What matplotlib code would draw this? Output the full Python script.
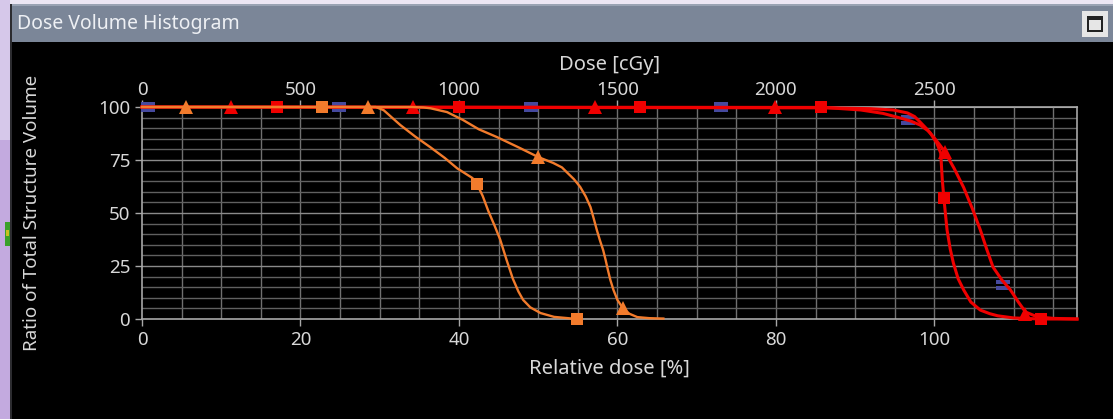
import numpy as np
import matplotlib.pyplot as plt
from matplotlib.patches import Rectangle
from matplotlib.path import Path

plt.rcParams['font.family'] = ['Noto Sans', 'DejaVu Sans']

# relative dose [%] vs ratio of structure volume [%]
# orange, square markers
a_x = [0, 29.5, 30.5, 32.6, 34.5, 36.4, 38.2, 39.8, 41.7, 42.3, 43.0, 43.7, 44.5, 45.2,
       46.0, 46.8, 47.5, 48.1, 49.0, 50.3, 52.0, 54.9]
a_y = [100, 100, 98.5, 91.5, 86, 81, 76, 71, 66.5, 63.5, 58, 51, 44, 37.5,
       28, 19, 13, 9, 5.5, 2.8, 1.0, 0]
a_mx = [22.7, 42.3, 54.9]
a_my = [100, 63.5, 0]

# orange, triangle markers
b_x = [0, 34, 35.5, 36.4, 38.5, 40.5, 42.5, 44.8, 47.5, 50.0, 51.9, 53.0, 53.7, 54.5,
       55.3, 56.0, 56.6, 57.0, 57.4, 57.8, 58.2, 58.5, 58.8, 59.1, 59.5, 60.0, 60.7,
       61.5, 62.5, 64, 65.8]
b_y = [100, 100, 99.8, 99.4, 97.6, 93.9, 89.5, 85.8, 81, 76.4, 73.6, 71.5, 68.9, 66,
       62.3, 57.8, 52.8, 47.5, 42, 37, 32.5, 28, 23.1, 18.5, 13.7, 9, 5,
       2.5, 0.9, 0.4, 0.2]
b_mx = [5.6, 28.5, 50.0, 60.7]
b_my = [100, 100, 76.4, 5]

# red, triangle markers
c_x = [0, 86, 90.7, 93.5, 95.7, 97.0, 98.2, 99.2, 99.9, 100.6, 101.3, 102.5, 103.7,
       104.8, 105.8, 106.6, 107.4, 108.5, 109.6, 110.6, 111.5, 113, 115, 118]
c_y = [100, 99.8, 98.6, 97, 94.8, 93.4, 91.5, 88.8, 85.8, 82.5, 79, 71, 62,
       52, 42, 33, 24.5, 18.5, 13.7, 8, 3.3, 1, 0.3, 0]
c_mx = [11.2, 34.2, 57.2, 79.9, 101.3, 111.5]
c_my = [100, 100, 100, 100, 79, 2.5]

# red, square markers
d_x = [0, 86.5, 92, 94.8, 96.6, 97.5, 98.2, 99.0, 99.5, 100.3, 100.8, 101.0, 101.2,
       101.6, 102.0, 102.4, 103.0, 103.7, 104.6, 105.8, 107, 108, 110, 113.4, 118]
d_y = [100, 99.6, 99.2, 98.6, 97.2, 95.5, 92.9, 89.8, 87.7, 83, 78.3, 65.6, 57,
       42, 33, 26.4, 19, 13.7, 8, 4.2, 2.5, 1.5, 0.5, 0, 0]
d_mx = [17.0, 40.0, 62.9, 85.7, 101.2, 113.4]
d_my = [100, 100, 100, 100, 57, 0]

# blue markers (line hidden under the red curves)
e_mx = [0.8, 24.9, 49.1, 73.1, 96.7, 108.6]
e_my = [100, 100, 100, 100, 93.8, 16]

x_ticks = [0, 20, 40, 60, 80, 100]
y_ticks = [0, 25, 50, 75, 100]
dose_ticks = [0, 500, 1000, 1500, 2000, 2500]
full_dose = 2500  # cGy at 100 %

RED = '#f00000'
ORANGE = '#f27b2c'
BLUE = '#45499e'
TXT = '#d8d8d8'

fig = plt.figure(figsize=(11.13, 4.19), dpi=100, facecolor='black')

# window chrome
W, H = 1113, 419
def px_rect(x0, y0, x1, y1, color, z=0):
    fig.patches.append(Rectangle((x0 / W, 1 - y1 / H), (x1 - x0) / W, (y1 - y0) / H,
                                 transform=fig.transFigure, color=color, zorder=z, lw=0))

px_rect(0, 0, W, 4, '#ece6f3')
px_rect(0, 0, 10, H, '#c3aadf')
px_rect(0, 0, 10, 140, '#d6c8ea')
px_rect(10, 4, 12, H, '#2c2c30')
px_rect(12, 4, W, 42, '#7b8698')
px_rect(12, 4, W, 6, '#9aa3b3')
px_rect(5, 222, 10, 246, '#3aa02a')
px_rect(6, 230, 9, 236, '#c8c020')
px_rect(1082, 11, 1108, 37, '#e6e6e6')
px_rect(1087, 16, 1103, 32, '#222222')
px_rect(1089, 20, 1101, 30, '#e6e6e6')
fig.text(17 / W, 1 - 24 / H, 'Dose Volume Histogram', color='#eef0f4',
         fontsize=14, va='center', ha='left')

ax = fig.add_axes([142 / W, 1 - 319 / H, (1077 - 142) / W, (319 - 107) / H])
ax.set_facecolor('black')
ax.set_xlim(0, 118)
ax.set_ylim(0, 100)

# grid: every 5 % both ways
for gx in np.arange(5, 116, 5):
    ax.axvline(gx, color='#707070', lw=1.0, zorder=1)
for gy in np.arange(5, 100, 5):
    c = '#8a8a8a' if gy % 25 == 0 else '#606060'
    ax.axhline(gy, color=c, lw=1.0, zorder=1)

for s in ax.spines.values():
    s.set_color('#a8a8a8')
    s.set_linewidth(1.2)

ax.set_xticks(x_ticks)
ax.set_yticks(y_ticks)
ax.tick_params(colors='#a8a8a8', labelcolor=TXT, labelsize=13.5, length=5, width=1)
ax.set_xlabel('Relative dose [%]', color=TXT, fontsize=14.5, labelpad=7)
ax.set_ylabel('Ratio of Total Structure Volume', color=TXT, fontsize=13.5, labelpad=41)

top = ax.secondary_xaxis('top', functions=(lambda v: v * full_dose / 100,
                                           lambda v: v * 100 / full_dose))
top.set_xticks(dose_ticks)
top.tick_params(colors='#a8a8a8', labelcolor=TXT, labelsize=13.5, length=5, width=1, pad=1)
top.spines['top'].set_color('#a8a8a8')
top.set_xlabel('Dose [cGy]', color=TXT, fontsize=14.5, labelpad=8)

bars = Path([(-1, 0.2), (1, 0.2), (1, 0.75), (-1, 0.75), (-1, 0.2),
             (-1, -0.2), (1, -0.2), (1, -0.75), (-1, -0.75), (-1, -0.2)],
            [1, 2, 2, 2, 79, 1, 2, 2, 2, 79])
ax.plot(e_mx, e_my, ls='none', marker=bars, ms=10, color=BLUE, mew=0,
        clip_on=False, zorder=3)

ax.plot(d_x, d_y, color=RED, lw=2.2, zorder=4, clip_on=False)
ax.plot(c_x, c_y, color=RED, lw=2.2, zorder=4, clip_on=False)
ax.plot(d_mx, d_my, ls='none', marker='s', ms=9, color=RED, mew=0, zorder=5, clip_on=False)
ax.plot(c_mx, c_my, ls='none', marker='^', ms=10, color=RED, mew=0, zorder=5, clip_on=False)

ax.plot(a_x, a_y, color=ORANGE, lw=1.7, zorder=6, clip_on=False)
ax.plot(b_x, b_y, color=ORANGE, lw=1.7, zorder=6, clip_on=False)
ax.plot(a_mx, a_my, ls='none', marker='s', ms=9, color=ORANGE, mew=0, zorder=7, clip_on=False)
ax.plot(b_mx, b_my, ls='none', marker='^', ms=10, color=ORANGE, mew=0, zorder=7, clip_on=False)

fig.savefig('out.png', dpi=100, facecolor='black')
